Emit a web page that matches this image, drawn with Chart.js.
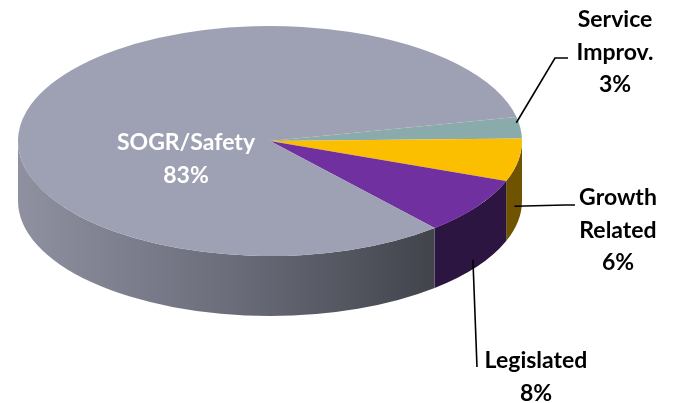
<!DOCTYPE html>
<html><head><meta charset="utf-8">
<script src="https://cdn.jsdelivr.net/npm/chart.js@4/dist/chart.umd.min.js"></script>
<style>html,body{margin:0;padding:0;background:#fff}#wrap{width:679px;height:403px;position:relative}</style>
</head><body><div id="wrap"><canvas id="c"></canvas></div>
<script>
// ---- data ----
const categories = ['Service Improv.', 'Growth Related', 'Legislated', 'SOGR/Safety'];
const values = [3, 6, 8, 83];
const labelWords = [['Service', 'Improv.'], ['Growth', 'Related'], ['Legislated'], ['SOGR/Safety']];

// ---- style ----
const topColors = ['#89abab', '#fcbf00', '#7030a0', '#9ea1b3'];
const sideColors = ['#5a7272', '#6f5300', '#2c1641', null];
const FONT = 'bold 23px Lato, "Open Sans", sans-serif';
const K = 115 / 252;     // vertical squash
const DEPTH = 60;        // wall depth
const LINE_H = 32.5;
// label layout: [centerX, firstBaseline, color, leader: [depthFrac, elbowX, elbowY, endX, endY] or null]
const labelLayout = [
  [615, 27, '#000', [0.0, 555, 58, 568, 58]],
  [618, 205, '#000', [0.85, 565, 205, 575, 205]],
  [536, 368, '#000', [0.97, 477, 367, 477, 367]],
  [186, 150, '#fff', null]
];

const pie3d = {
  id: 'pie3d',
  beforeDatasetsDraw(chart) {
    const ctx = chart.ctx;
    const meta = chart.getDatasetMeta(0);
    const cx = meta.data[0].x, cy = meta.data[0].y;
    meta.data.forEach((arc, i) => {
      const r = arc.outerRadius;
      for (const off of [-2 * Math.PI, 0, 2 * Math.PI]) {
        const a0 = Math.max(arc.startAngle, off), a1 = Math.min(arc.endAngle, off + Math.PI);
        if (a1 <= a0) continue;
        ctx.beginPath();
        ctx.ellipse(cx, cy, r, K * r, 0, a0, a1, false);
        ctx.ellipse(cx, cy + DEPTH, r, K * r, 0, a1, a0, true);
        ctx.closePath();
        if (sideColors[i]) {
          ctx.fillStyle = sideColors[i];
        } else {
          const g = ctx.createLinearGradient(cx - r, 0, cx + r * 0.63, 0);
          g.addColorStop(0, '#8f91a1');
          g.addColorStop(0.5, '#6c6e7c');
          g.addColorStop(1, '#43454d');
          ctx.fillStyle = g;
        }
        ctx.fill();
      }
    });
    ctx.save();
    ctx.translate(0, cy);
    ctx.scale(1, K);
    ctx.translate(0, -cy);
  },
  afterDatasetsDraw(chart) {
    const ctx = chart.ctx;
    ctx.restore();
    const meta = chart.getDatasetMeta(0);
    const cx = meta.data[0].x, cy = meta.data[0].y;
    ctx.save();
    ctx.font = FONT;
    ctx.textAlign = 'center';
    ctx.textBaseline = 'alphabetic';
    meta.data.forEach((arc, i) => {
      const [lx, ly, col, leader] = labelLayout[i];
      const lines = labelWords[i].concat([values[i] + '%']);
      ctx.fillStyle = col;
      lines.forEach((t, j) => ctx.fillText(t, lx, ly + j * LINE_H));
      if (leader) {
        const mid = (arc.startAngle + arc.endAngle) / 2;
        const r = arc.outerRadius;
        const sx = cx + r * Math.cos(mid) - 4;
        const sy = cy + K * r * Math.sin(mid) + leader[0] * DEPTH - 5;
        ctx.beginPath();
        ctx.moveTo(sx, sy);
        ctx.lineTo(leader[1], leader[2]);
        ctx.lineTo(leader[3], leader[4]);
        ctx.strokeStyle = '#000';
        ctx.lineWidth = 1.6;
        ctx.stroke();
      }
    });
    ctx.restore();
  }
};

new Chart(document.getElementById('c'), {
  type: 'pie',
  data: {
    labels: categories,
    datasets: [{
      data: values,
      backgroundColor: topColors,
      borderWidth: 0,
      radius: 252,
      clip: false
    }]
  },
  options: {
    responsive: true,
    maintainAspectRatio: false,
    animation: false,
    rotation: 78,
    layout: { padding: { left: 0, right: 139, top: 0, bottom: 121 } },
    plugins: { legend: { display: false }, tooltip: { enabled: false } },
    events: []
  },
  plugins: [pie3d]
});
</script>
</body></html>
